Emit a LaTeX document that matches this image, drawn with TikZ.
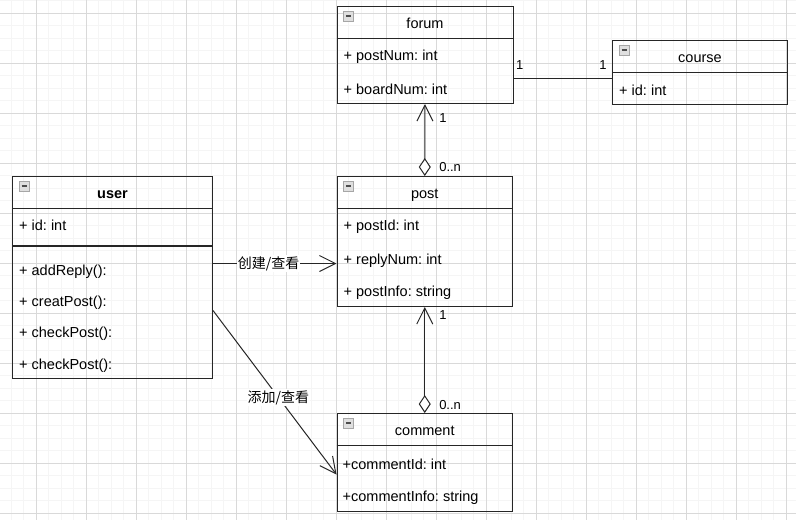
\documentclass[tikz,border=0pt]{standalone}
\usepackage{fontspec}
\setmainfont{Liberation Sans}
\newfontfamily\cjk{Noto Sans CJK SC}
\usetikzlibrary{arrows.meta}
\usetikzlibrary{positioning}
\usetikzlibrary{calc}
\frenchspacing

% small collapse box in the corner of a class header
\newcommand{\minusicon}[1]{%
  \draw[gray!70, fill=gray!25] ($(#1.north west)+(7,5)$) rectangle ++(10,10);
  \draw[black!70, line width=1.2pt] ($(#1.north west)+(9.5,10)$) -- ++(5,0);
}

\begin{document}
\begin{tikzpicture}[x=1pt, y=-1pt, font=\fontsize{14.5}{17}\selectfont,
    classbox/.style={draw=black!85, line width=1pt, inner sep=0pt, anchor=north west},
    title/.style={minimum height=32pt, inner sep=0pt, text height=12pt, text depth=0pt},
    attr/.style={anchor=base west, inner sep=0pt},
    sepline/.style={draw=black!85, line width=1pt},
    assoc/.style={-{Straight Barb[length=16pt, width=16pt]}, line width=1pt, black!85},
    aggr/.style={{Diamond[open, fill=white, length=18pt, width=12pt]}-{Straight Barb[length=16pt, width=16pt]}, line width=1pt, black!85},
    lbl/.style={fill=white, inner sep=1pt, text=black, font=\cjk\fontsize{14}{16}\selectfont},
    mult/.style={inner sep=1pt, text=black, font=\fontsize{13}{15}\selectfont}]

    \useasboundingbox (0,0) rectangle (796,520);
    \fill[white] (0,0) rectangle (796,520);

    % background grid
    \foreach \i in {0,...,64}
        \draw[gray!8, line width=0.8pt] ({-1.5+12.5*\i},0) -- ++(0,520);
    \foreach \i in {0,...,42}
        \draw[gray!8, line width=0.8pt] (0,{0.8+12.5*\i}) -- ++(796,0);
    \foreach \i in {0,...,15}
        \draw[gray!30, line width=0.8pt] ({36+50*\i},0) -- ++(0,520);
    \foreach \i in {0,...,10}
        \draw[gray!30, line width=0.8pt] (0,{13.3+50*\i}) -- ++(796,0);

    % classes
    \node[classbox, minimum width=176, minimum height=97] (forum) at (336.5,6) {};
    \node[classbox, minimum width=175, minimum height=64] (course) at (612,40) {};
    \node[classbox, minimum width=200, minimum height=202] (user) at (12,176) {};
    \node[classbox, minimum width=175.5, minimum height=130] (post) at (336.5,176) {};
    \node[classbox, minimum width=175.5, minimum height=98] (comment) at (336.5,413) {};

    \node[title, below=0pt of forum.north] (forum-t) {forum};
    \node[title, below=0pt of course.north] (course-t) {course};
    \node[title, below=0pt of user.north] (user-t) {\textbf{user}};
    \node[title, below=0pt of post.north] (post-t) {post};
    \node[title, below=0pt of comment.north] (comment-t) {comment};

    \foreach \c in {forum,course,user,post,comment} {
        \draw[sepline] ([yshift=-32pt]\c.north west) -- ([yshift=-32pt]\c.north east);
        \minusicon{\c}
    }
    \draw[sepline, line width=1.6pt] ([yshift=-70pt]user.north west) -- ([yshift=-70pt]user.north east);

    \node[attr] at ($(forum.north west)+(7,54)$) {+ postNum: int};
    \node[attr] at ($(forum.north west)+(7,88)$) {+ boardNum: int};

    \node[attr] at ($(course.north west)+(7,55)$) {+ id: int};

    \node[attr] at ($(user.north west)+(7,54)$) {+ id: int};
    \node[attr] at ($(user.north west)+(7,99)$) {+ addReply():};
    \node[attr] at ($(user.north west)+(7,130)$) {+ creatPost():};
    \node[attr] at ($(user.north west)+(7,161)$) {+ checkPost():};
    \node[attr] at ($(user.north west)+(7,193)$) {+ checkPost():};

    \node[attr] at ($(post.north west)+(7,54)$) {+ postId: int};
    \node[attr] at ($(post.north west)+(7,88)$) {+ replyNum: int};
    \node[attr] at ($(post.north west)+(7,120)$) {+ postInfo: string};

    \node[attr] at ($(comment.north west)+(6,56)$) {+commentId: int};
    \node[attr] at ($(comment.north west)+(6,88)$) {+commentInfo: string};

    % relations
    \coordinate (fc) at ([yshift=-6pt]course.west);
    \draw[line width=1pt, black!85] (forum.east |- fc) -- (fc)
        node[mult, pos=0, above right=8pt and 1pt] {1}
        node[mult, pos=1, above left=8pt and 4pt] {1};

    \draw[aggr] (post.north) -- (forum.south)
        node[mult, pos=0.81, right=13pt] {1}
        node[mult, pos=0.12, right=13pt] {0..n};
    \draw[aggr] (comment.north) -- (post.south)
        node[mult, pos=0.92, right=13pt] {1}
        node[mult, pos=0.075, right=13pt] {0..n};

    \coordinate (up) at ([yshift=14pt]user.east);
    \draw[assoc] (up) -- (up -| post.west) node[lbl, pos=0.45] {创建/查看};
    \draw[assoc] ([yshift=-33pt]user.east) -- ([yshift=-12pt]comment.west)
        node[lbl, pos=0.53] {添加/查看};
\end{tikzpicture}
\end{document}
